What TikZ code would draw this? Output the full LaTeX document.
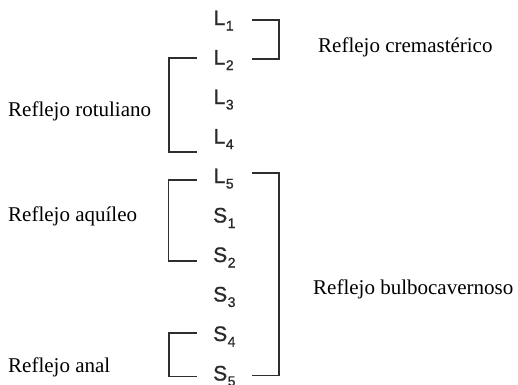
\documentclass[tikz,border=0pt]{standalone}
\usepackage{fontspec}
\setmainfont{Liberation Serif}
\newfontface\segfont[FakeBold=1]{Liberation Sans}
\definecolor{ink}{HTML}{2A2A2A}
\definecolor{brk}{HTML}{2E2E2E}
\newcommand{\segname}[2]{#1\kern0.5pt\raisebox{-5.5pt}{\fontsize{14}{14}\selectfont #2}}
\tikzset{
  seg/.style={anchor=base west, inner sep=0pt, text=ink, font=\segfont\fontsize{21}{21}\selectfont},
  reflabel/.style={anchor=base west, inner sep=0pt, text=black, font=\fontsize{21}{21}\selectfont},
  bracket/.style={draw=brk, line width=1.5pt, line cap=butt, line join=miter}
}
\begin{document}
\begin{tikzpicture}[x=1pt,y=-1pt]
\useasboundingbox (0,0) rectangle (518,384);
% segment names
\node[seg] (L1) at (213.5,25) {\segname{L}{1}};
\node[seg] (L2) at (213.5,64.5) {\segname{L}{2}};
\node[seg] (L3) at (213.5,104) {\segname{L}{3}};
\node[seg] (L4) at (213.5,143.5) {\segname{L}{4}};
\node[seg] (L5) at (213.5,183) {\segname{L}{5}};
\node[seg] (S1) at (213,222.5) {\segname{S}{1}};
\node[seg] (S2) at (213,262) {\segname{S}{2}};
\node[seg] (S3) at (213,301.5) {\segname{S}{3}};
\node[seg] (S4) at (213,341) {\segname{S}{4}};
\node[seg] (S5) at (213,380.5) {\segname{S}{5}};
% labels
\node[reflabel] (crem) at (318,52) {Reflejo cremastérico};
\node[reflabel] (rotu) at (8,116) {Reflejo rotuliano};
\node[reflabel] (aqui) at (8,221) {Reflejo aquíleo};
\node[reflabel] (bulbo) at (313,294) {Reflejo bulbocavernoso};
\node[reflabel] (anal) at (8,372) {Reflejo anal};
% bracket end points
\coordinate (cremA) at (252,20);
\coordinate (cremB) at (252,59);
\coordinate (rotuA) at (197,58);
\coordinate (rotuB) at (197,152);
\coordinate (bulbA) at (252,173);
\coordinate (bulbB) at (252,375.5);
\coordinate (aquiA) at (197,180);
\coordinate (aquiB) at (197,261);
\coordinate (analA) at (197,333);
\coordinate (analB) at (197,376.5);
% brackets
\draw[bracket] (cremA) -- ++(27,0) |- (cremB);
\draw[bracket] (rotuA) -- ++(-28,0) |- (rotuB);
\draw[bracket] (bulbA) -- ++(27,0) |- (bulbB);
\draw[bracket] (aquiA) -- ++(-28.5,0) |- (aquiB);
\draw[bracket] (analA) -- ++(-28,0) |- (analB);
\end{tikzpicture}
\end{document}
